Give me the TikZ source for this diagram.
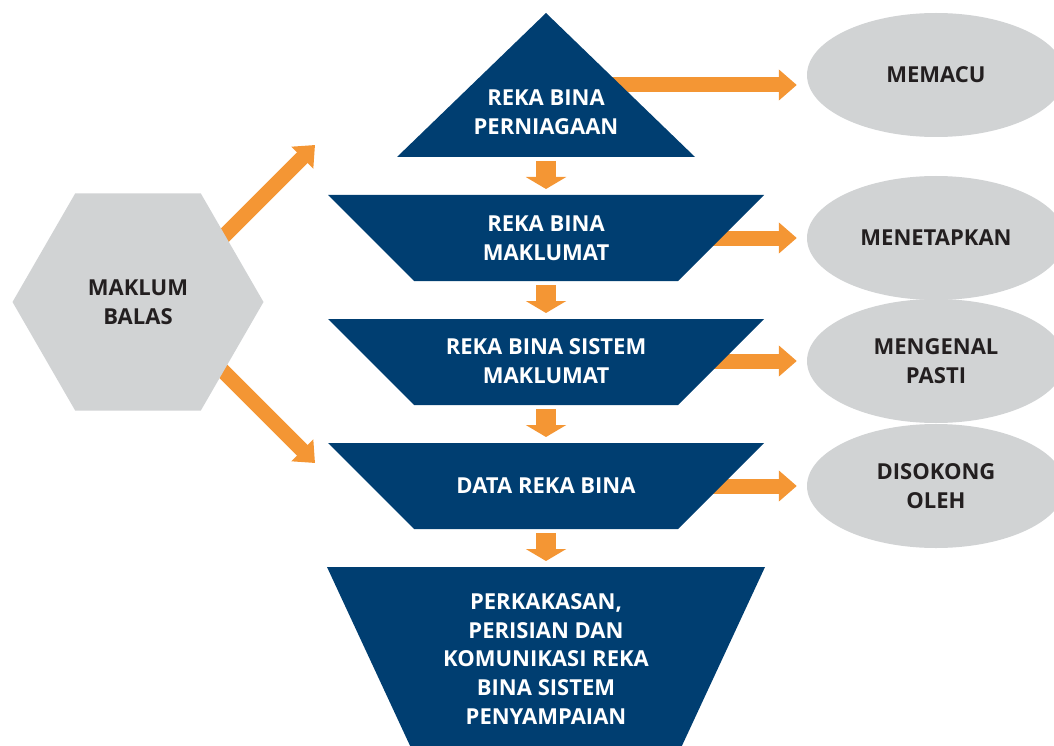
\documentclass[tikz,border=0pt]{standalone}
\usepackage{xcolor}
\usepackage{fontspec}
\setmainfont{Open Sans}
\usetikzlibrary{arrows.meta,backgrounds,shapes.geometric}

\definecolor{binablue}{HTML}{003E71}
\definecolor{flowor}{HTML}{F49634}
\definecolor{balasgrey}{HTML}{D1D3D4}
\definecolor{balasink}{HTML}{231F20}

\tikzset{
  binatext/.style={text=white, align=center, font=\bfseries\fontsize{22}{28.8}\selectfont},
  greytext/.style={text=balasink, align=center, font=\bfseries\fontsize{22}{28.8}\selectfont},
  bubble/.style={greytext, ellipse, fill=balasgrey, minimum width=258pt, minimum height=124pt, inner sep=0pt},
  hexbox/.style={greytext, regular polygon, regular polygon sides=6, fill=balasgrey, minimum size=251pt, inner sep=0pt},
  flow/.style={draw=flowor, line width=15pt, -{Triangle[width=30pt,length=18pt]}},
  drop/.style={draw=flowor, line width=20pt, -{Triangle[width=40pt,length=12pt]}, shorten <=4pt, shorten >=6pt},
}

\begin{document}
\begin{tikzpicture}[x=1pt, y=-1pt]
\useasboundingbox (0,0) rectangle (1054,746);
\clip (0,0) rectangle (1054,746);

% funnel
\fill [binablue] (546,13) -- (695,157) -- (397,157) -- cycle;
\node [binatext] (perniagaan) at (546,112) {REKA BINA\\PERNIAGAAN};
\coordinate (perniagaan-r) at (560,85);
\coordinate (perniagaan-s) at (546,157);

\fill [binablue] (328,195) -- (764,195) -- (678,281) -- (414,281) -- cycle;
\node [binatext] (maklumat) at (546,238) {REKA BINA\\MAKLUMAT};
\coordinate (maklumat-n) at (546,195);
\coordinate (maklumat-s) at (546,281);

\fill [binablue] (328,319) -- (764,319) -- (678,405) -- (414,405) -- cycle;
\node [binatext] (sistem) at (546,361) {REKA BINA SISTEM\\MAKLUMAT};
\coordinate (sistem-n) at (546,319);
\coordinate (sistem-s) at (546,405);

\fill [binablue] (328,443) -- (764,443) -- (678,529) -- (414,529) -- cycle;
\node [binatext] (data) at (546,486) {DATA REKA BINA};
\coordinate (data-n) at (546,443);
\coordinate (data-s) at (546,529);

\fill [binablue] (327,567) -- (765,567) -- (680,750) -- (412,750) -- cycle;
\node [binatext] (penyampaian) at (546,659) {PERKAKASAN,\\PERISIAN DAN\\KOMUNIKASI REKA\\BINA SISTEM\\PENYAMPAIAN};
\coordinate (penyampaian-n) at (546,567);

% feedback and results
\node [hexbox] (balas) at (138,302) {MAKLUM\\BALAS};
\coordinate (balas-up) at (215,245);
\coordinate (balas-dn) at (215,363);
\coordinate (up-tip) at (315,145);
\coordinate (dn-tip) at (315,463);

\node [bubble] (memacu) at (936,75) {MEMACU};
\node [bubble] (menetapkan) at (936,238) {MENETAPKAN};
\node [bubble] (mengenal) at (936,361) {MENGENAL\\PASTI};
\node [bubble] (disokong) at (936,486) {DISOKONG\\OLEH};

\begin{scope}[on background layer]
\draw [flow, shorten >=10pt] (perniagaan-r) -- (perniagaan-r -| memacu.west);
\draw [flow, shorten >=10pt] (maklumat) -- (menetapkan);
\draw [flow, shorten >=10pt] (sistem) -- (mengenal);
\draw [flow, shorten >=10pt] (data) -- (disokong);

\draw [flow] (balas-up) -- (up-tip);
\draw [flow] (balas-dn) -- (dn-tip);

\draw [drop] (perniagaan-s) -- (maklumat-n);
\draw [drop] (maklumat-s) -- (sistem-n);
\draw [drop] (sistem-s) -- (data-n);
\draw [drop] (data-s) -- (penyampaian-n);
\end{scope}
\end{tikzpicture}
\end{document}
